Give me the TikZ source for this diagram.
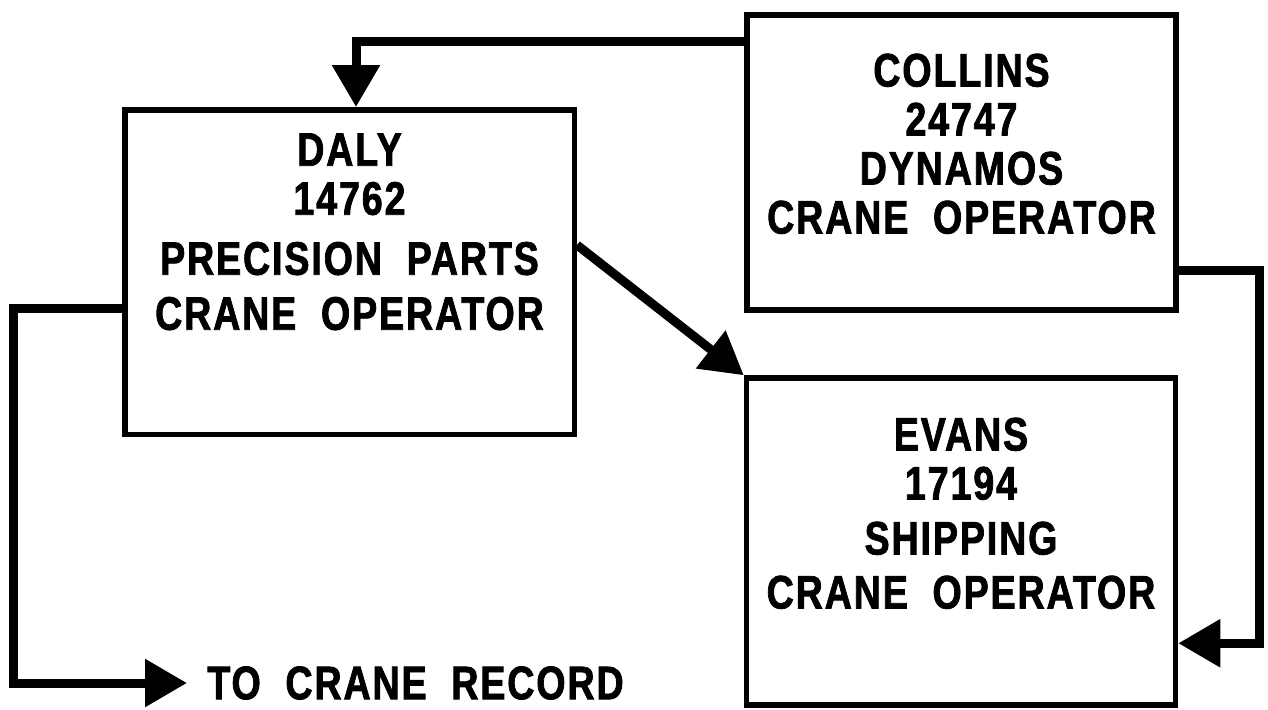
\documentclass[tikz,border=0pt]{standalone}
\usepackage{fontspec}
\setmainfont{Liberation Sans}[FakeStretch=0.8, LetterSpace=4, WordSpace=2, BoldFeatures={FakeBold=1.6}]
\usetikzlibrary{arrows.meta, positioning, calc}

\begin{document}
\begin{tikzpicture}[
    x=0.5pt, y=-0.5pt,
    opbox/.style={rectangle, draw, line width=2.75pt, inner sep=0pt},
    optext/.style={align=center, inner sep=0pt, font=\fontsize{23.5}{24.5}\selectfont\bfseries},
    flow/.style={-{Triangle[length=21pt, width=23pt]}, line width=4.5pt}
]
\useasboundingbox (0,0) rectangle (1268,709);
\node[opbox, minimum width=224.75pt, minimum height=162.25pt] (daly) at (349.5,272) {};
\node[opbox, minimum width=214.5pt, minimum height=147.5pt] (collins) at (961.5,162.5) {};
\node[opbox, minimum width=214.5pt, minimum height=163.5pt] (evans) at (961,541.5) {};

\node[optext, below=13pt of daly.north] (daly-name) {DALY\\14762\\[5.5pt]PRECISION PARTS\\[3pt]CRANE OPERATOR};
\node[optext, below=20.5pt of collins.north] (collins-name) {COLLINS\\24747\\DYNAMOS\\CRANE OPERATOR};
\node[optext, below=21pt of evans.north] (evans-name) {EVANS\\17194\\[3pt]SHIPPING\\[2.5pt]CRANE OPERATOR};
\node[optext, anchor=west] (record) at (207,683) {TO CRANE RECORD};

\draw[flow] ($(collins.north west)+(0,29)$) -| ($(daly.north)+(6.5,0)$);
\draw[flow] ($(daly.north east)+(0,138)$) -- (evans.north west);
\draw[flow] ($(collins.north east)+(0,258)$) -| ($(evans.north east)+(81,268)$) -- ($(evans.north east)+(0,268)$);
\draw[flow] ($(daly.north west)+(0,201)$) -| ($(record.west)+(-194,0)$) -- ($(record.west)+(-20,0)$);
\end{tikzpicture}
\end{document}
